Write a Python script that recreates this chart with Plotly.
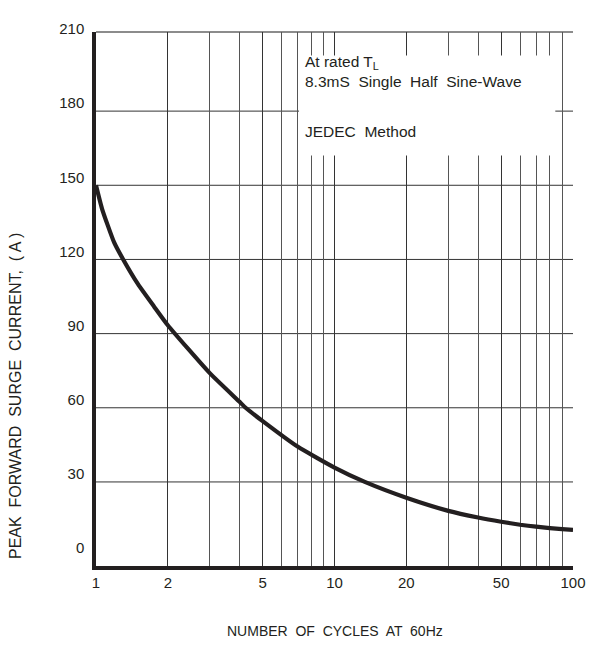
import plotly.graph_objects as go

# ---- data ----
cycles = [1, 1.06, 1.19, 1.3, 1.5, 1.75, 2, 3, 4, 4.24, 5, 7, 10, 13.4, 20, 30, 40, 50, 60, 70, 80, 90, 100]
surge_current = [150, 140.5, 127, 120, 110, 101, 93.4, 74, 62.4, 60, 54.6, 44.3, 35.8, 30, 23.6, 18.3,
                 15.6, 13.9, 12.7, 11.9, 11.3, 10.9, 10.6]

x_ticks = [1, 2, 5, 10, 20, 50, 100]
x_labels = ["1", "2", "5", "10", "20", "50", "100"]
x_minor_grid = [3, 4, 6, 7, 8, 9, 30, 40, 60, 70, 80, 90]
y_ticks = [0, 30, 60, 90, 120, 150, 180, 210]
y_labels = ["0", "30", "60", "90", "120", "150", "180", "210"]
y_grid = [30, 60, 90, 120, 150, 180]

note_lines = ["At rated T<sub><span style='color:#231f20'>L</span></sub>",
              "8.3mS  Single  Half  Sine-Wave", "JEDEC  Method"]
note_y = [199.8, 191.8, 171.8]

ink = "#231f20"
tick_font = dict(family="Liberation Sans, Arial", size=15, color=ink)
text_font = dict(family="Liberation Sans, Arial", size=15.5, color=ink)

fig = go.Figure()
fig.add_trace(go.Scatter(
    x=cycles, y=surge_current, mode="lines",
    line=dict(color=ink, width=4.2, shape="spline", smoothing=0.5),
    hoverinfo="skip", showlegend=False,
))

shapes = []
for gy in y_grid:
    shapes.append(dict(type="line", xref="paper", yref="y", x0=0, x1=1, y0=gy, y1=gy,
                       line=dict(color="#333333", width=1), layer="between"))
# top border
shapes.append(dict(type="line", xref="paper", yref="paper", x0=0, x1=1, y0=1, y1=1,
                   line=dict(color="#666666", width=1.5), layer="between"))
# white note box (shape x in data units on log axis)
shapes.append(dict(type="rect", xref="x", yref="y", x0=7.1, x1=84.3, y0=162, y1=202.5,
                   fillcolor="white", line=dict(width=0), layer="between"))
fig.update_layout(shapes=shapes)

ann = []
for txt, yy in zip(note_lines, note_y):
    ann.append(dict(x=0.866, y=yy, xref="x", yref="y", text=txt, showarrow=False,
                    xanchor="left", yanchor="middle", font=text_font))
ann.append(dict(x=-0.169, y=0.319, xref="paper", yref="paper",
                text="PEAK  FORWARD  SURGE  CURRENT,  ( A )", textangle=-90, showarrow=False,
                xanchor="center", yanchor="middle",
                font=dict(family="Liberation Sans, Arial", size=16, color=ink)))
ann.append(dict(x=0.5, y=-0.122, xref="paper", yref="paper",
                text="NUMBER  OF  CYCLES  AT  60Hz", showarrow=False,
                xanchor="center", yanchor="middle",
                font=dict(family="Liberation Sans, Arial", size=14, color=ink)))
fig.update_layout(annotations=ann)

fig.update_xaxes(
    type="log", range=[0, 2], tickmode="array", tickvals=x_ticks, ticktext=x_labels,
    showgrid=True, gridcolor="#333333", gridwidth=1,
    minor=dict(tickmode="array", tickvals=x_minor_grid, showgrid=True,
               gridcolor="#555555", gridwidth=1, ticks=""),
    showline=True, linecolor=ink, linewidth=3.5,
    ticks="", tickfont=tick_font, zeroline=False, fixedrange=True,
)
fig.update_yaxes(
    range=[-4, 212], tickmode="array", tickvals=y_ticks, ticktext=y_labels,
    showgrid=False, zeroline=False,
    showline=True, linecolor=ink, linewidth=3.5,
    ticks="", tickfont=tick_font, ticklabelshift=-8, ticklabelstandoff=5, fixedrange=True,
)
fig.update_layout(
    width=590, height=637,
    margin=dict(l=88, r=18, t=16, b=79),
    paper_bgcolor="white", plot_bgcolor="white",
    showlegend=False,
)
fig.write_html("out.html")
